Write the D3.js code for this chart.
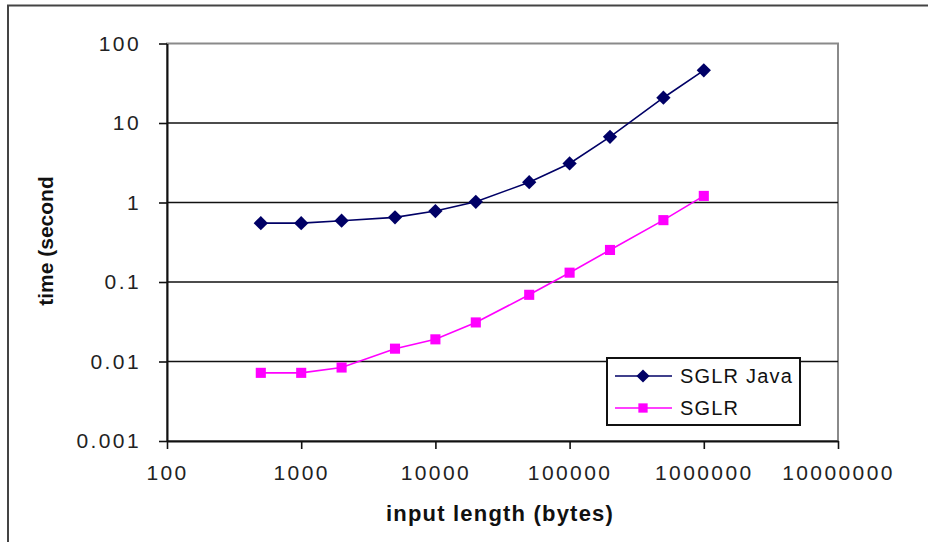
<!DOCTYPE html>
<html>
<head>
<meta charset="utf-8">
<script src="https://cdn.jsdelivr.net/npm/d3@7"></script>
<style>
  body { margin: 0; background: #fff; }
  svg { display: block; font-family: "Liberation Sans", Arial, sans-serif; }
  .tick text { fill: #222; }
</style>
</head>
<body>
<div id="container"></div>
<script>
/* CONSTANTS AND GLOBALS */
const width = 928,
  height = 542,
  margin = { top: 43.5, bottom: 101, left: 167, right: 90 };

// input sizes (bytes) and timings (seconds)
const sizes = [500, 1000, 2000, 5000, 10000, 20000, 50000, 100000, 200000, 500000, 1000000];
const javaTimes = [0.55, 0.55, 0.59, 0.65, 0.78, 1.02, 1.8, 3.1, 6.7, 20.8, 46];
const sglrTimes = [0.0072, 0.0072, 0.0084, 0.0145, 0.019, 0.031, 0.069, 0.131, 0.253, 0.60, 1.21];

const xTicks = [100, 1000, 10000, 100000, 1000000, 10000000];
const xTickLabels = ["100", "1000", "10000", "100000", "1000000", "10000000"];
const yTicks = [0.001, 0.01, 0.1, 1, 10, 100];
const yTickLabels = ["0.001", "0.01", "0.1", "1", "10", "100"];

const seriesNames = ["SGLR Java", "SGLR"];

const series = [
  { name: seriesNames[0], values: javaTimes, color: "#000066", symbol: d3.symbolDiamond2 },
  { name: seriesNames[1], values: sglrTimes, color: "#ff00ff", symbol: d3.symbolSquare2 }
];

const svg = d3.select("#container")
  .append("svg")
  .attr("width", width)
  .attr("height", height);

// outer chart frame (only top and left edges are inside the picture)
svg.append("path")
  .attr("d", `M8,${height} V5.5 H${width}`)
  .attr("fill", "none")
  .attr("stroke", "#444")
  .attr("stroke-width", 2);

// + SCALES
const xScale = d3.scaleLog()
  .domain([100, 10000000])
  .range([margin.left, width - margin.right]);

const yScale = d3.scaleLog()
  .domain([0.001, 100])
  .range([height - margin.bottom, margin.top]);

// plot area border
svg.append("rect")
  .attr("x", xScale(100))
  .attr("y", yScale(100))
  .attr("width", xScale(10000000) - xScale(100))
  .attr("height", yScale(0.001) - yScale(100))
  .attr("fill", "#fff")
  .attr("stroke", "#8a8a8a")
  .attr("stroke-width", 2);

// + GRIDLINES
svg.append("g")
  .selectAll("line")
  .data(yTicks.filter(d => d > 0.001 && d < 100))
  .join("line")
  .attr("x1", xScale(100))
  .attr("x2", xScale(10000000))
  .attr("y1", d => yScale(d))
  .attr("y2", d => yScale(d))
  .attr("stroke", "#111")
  .attr("stroke-width", 1.6);

// + AXES
const xAxis = d3.axisBottom(xScale)
  .tickValues(xTicks)
  .tickFormat((d, i) => xTickLabels[i])
  .tickSize(8)
  .tickSizeOuter(0)
  .tickPadding(16);

const yAxis = d3.axisLeft(yScale)
  .tickValues(yTicks)
  .tickFormat((d, i) => yTickLabels[i])
  .tickSize(8)
  .tickSizeOuter(0)
  .tickPadding(18);

const gx = svg.append("g")
  .attr("transform", `translate(0, ${yScale(0.001)})`)
  .call(xAxis);

const gy = svg.append("g")
  .attr("transform", `translate(${xScale(100)}, 0)`)
  .call(yAxis);

[gx, gy].forEach(g => {
  g.select(".domain").attr("stroke", "#111").attr("stroke-width", 2);
  g.selectAll(".tick line").attr("stroke", "#111").attr("stroke-width", 1.6);
  g.selectAll(".tick text")
    .attr("font-size", 21)
    .attr("letter-spacing", 2.4)
    .attr("font-family", "Liberation Sans, Arial, sans-serif");
});

// axis titles
svg.append("text")
  .attr("x", 500)
  .attr("y", 521)
  .attr("text-anchor", "middle")
  .attr("font-size", 22)
  .attr("font-weight", "bold")
  .attr("letter-spacing", 1.2)
  .attr("fill", "#111")
  .text("input length (bytes)");

svg.append("text")
  .attr("transform", "translate(53, 241) rotate(-90)")
  .attr("text-anchor", "middle")
  .attr("font-size", 21)
  .attr("font-weight", "bold")
  .attr("fill", "#111")
  .text("time (second");

// + LINES AND MARKERS
const lineGenerator = d3.line()
  .x((d, i) => xScale(sizes[i]))
  .y(d => yScale(d));

series.forEach(s => {
  svg.append("path")
    .datum(s.values)
    .attr("fill", "none")
    .attr("stroke", s.color)
    .attr("stroke-width", 1.6)
    .attr("d", lineGenerator);

  svg.append("g")
    .selectAll("path")
    .data(s.values)
    .join("path")
    .attr("transform", (d, i) => `translate(${xScale(sizes[i])}, ${yScale(d)})`)
    .attr("d", d3.symbol().type(s.symbol).size(130))
    .attr("fill", s.color)
    .attr("stroke", "none");
});

// + LEGEND
const legend = svg.append("g").attr("transform", "translate(607, 358)");

legend.append("rect")
  .attr("width", 193)
  .attr("height", 67)
  .attr("fill", "#fff")
  .attr("stroke", "#111")
  .attr("stroke-width", 2);

const items = legend.selectAll(".item")
  .data(series)
  .join("g")
  .attr("class", "item")
  .attr("transform", (d, i) => `translate(0, ${18 + i * 32})`);

items.append("line")
  .attr("x1", 8)
  .attr("x2", 65)
  .attr("stroke", d => d.color)
  .attr("stroke-width", 1.6);

items.append("path")
  .attr("transform", "translate(36, 0)")
  .attr("d", d => d3.symbol().type(d.symbol).size(110)())
  .attr("fill", d => d.color);

items.append("text")
  .attr("x", 73)
  .attr("dy", "0.35em")
  .attr("font-size", 20)
  .attr("letter-spacing", 1.2)
  .attr("fill", "#111")
  .text(d => d.name);
</script>
</body>
</html>
